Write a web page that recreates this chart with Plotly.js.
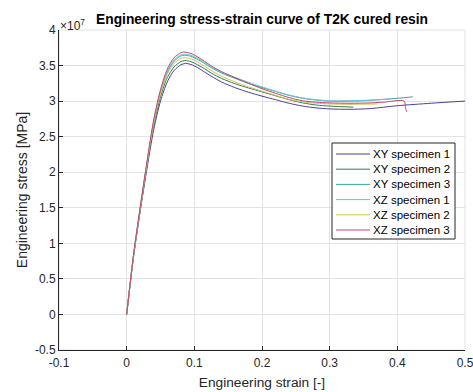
<!DOCTYPE html>
<html>
<head>
<meta charset="utf-8">
<script src="https://cdn.plot.ly/plotly-3.0.1.min.js"></script>
<style>html,body{margin:0;padding:0;background:#fff;}#chart{width:473px;height:392px;}</style>
</head>
<body>
<div id="chart"></div>
<script>
// Stress values are in units of 1e7 Pa (axis shows ×10^7)
const seriesNames = ["XY specimen 1", "XY specimen 2", "XY specimen 3", "XZ specimen 1", "XZ specimen 2", "XZ specimen 3"];

const xy1_strain = [0, 0.01, 0.02, 0.03, 0.04, 0.05, 0.06, 0.07, 0.08, 0.087, 0.095, 0.105, 0.115, 0.125, 0.14, 0.16, 0.18, 0.2, 0.22, 0.24, 0.26, 0.28, 0.3, 0.33, 0.36, 0.4, 0.45, 0.5];
const xy1_stress = [0, 0.80, 1.45, 2.05, 2.60, 3.00, 3.27, 3.43, 3.51, 3.53, 3.515, 3.47, 3.41, 3.35, 3.27, 3.19, 3.125, 3.07, 3.02, 2.97, 2.93, 2.905, 2.89, 2.885, 2.895, 2.935, 2.97, 3.00];

const xy2_strain = [0, 0.01, 0.02, 0.03, 0.04, 0.05, 0.06, 0.07, 0.08, 0.086, 0.095, 0.105, 0.115, 0.125, 0.14, 0.16, 0.18, 0.2, 0.22, 0.24, 0.26, 0.28, 0.3, 0.335];
const xy2_stress = [0, 0.81, 1.47, 2.09, 2.65, 3.06, 3.33, 3.48, 3.555, 3.57, 3.555, 3.51, 3.455, 3.395, 3.32, 3.245, 3.185, 3.13, 3.075, 3.02, 2.975, 2.945, 2.93, 2.915];

const xy3_strain = [0, 0.01, 0.02, 0.03, 0.04, 0.05, 0.06, 0.07, 0.08, 0.085, 0.095, 0.105, 0.115, 0.125, 0.14, 0.16, 0.18, 0.2, 0.22, 0.24, 0.26, 0.28, 0.3, 0.35, 0.4, 0.423];
const xy3_stress = [0, 0.82, 1.49, 2.12, 2.70, 3.12, 3.40, 3.56, 3.635, 3.645, 3.63, 3.585, 3.53, 3.47, 3.395, 3.32, 3.25, 3.19, 3.135, 3.08, 3.04, 3.015, 3.00, 3.005, 3.04, 3.06];

const xz1_strain = [0, 0.01, 0.02, 0.03, 0.04, 0.05, 0.06, 0.07, 0.08, 0.086, 0.095, 0.105, 0.115, 0.125, 0.14, 0.16, 0.18, 0.2, 0.22, 0.24, 0.26, 0.28, 0.3, 0.35, 0.39];
const xz1_stress = [0, 0.82, 1.50, 2.13, 2.72, 3.14, 3.42, 3.58, 3.65, 3.66, 3.645, 3.60, 3.545, 3.485, 3.41, 3.335, 3.265, 3.20, 3.14, 3.085, 3.045, 3.02, 3.005, 3.01, 3.03];

const xz2_strain = [0, 0.01, 0.02, 0.03, 0.04, 0.05, 0.06, 0.07, 0.08, 0.085, 0.095, 0.105, 0.115, 0.125, 0.14, 0.16, 0.18, 0.2, 0.22, 0.24, 0.26, 0.28, 0.3, 0.33, 0.37];
const xz2_stress = [0, 0.82, 1.49, 2.12, 2.69, 3.10, 3.38, 3.53, 3.60, 3.61, 3.595, 3.55, 3.49, 3.43, 3.35, 3.27, 3.20, 3.14, 3.08, 3.025, 2.99, 2.97, 2.96, 2.955, 2.96];

const xz3_strain = [0, 0.01, 0.02, 0.03, 0.04, 0.05, 0.06, 0.07, 0.08, 0.084, 0.095, 0.105, 0.115, 0.125, 0.14, 0.16, 0.18, 0.2, 0.22, 0.24, 0.26, 0.28, 0.3, 0.33, 0.36, 0.38, 0.41, 0.412, 0.414];
const xz3_stress = [0, 0.83, 1.51, 2.15, 2.74, 3.16, 3.45, 3.61, 3.68, 3.69, 3.67, 3.62, 3.56, 3.495, 3.415, 3.33, 3.25, 3.175, 3.11, 3.05, 3.005, 2.985, 2.975, 2.97, 2.975, 2.985, 3.00, 2.90, 2.85];

const lineColors = ["#4b3f98", "#2f7f55", "#34a99a", "#6cc3dd", "#d8bf52", "#c4466f"];

const xTickVals = [-0.1, 0, 0.1, 0.2, 0.3, 0.4, 0.5];
const xTickText = ["-0.1", "0", "0.1", "0.2", "0.3", "0.4", "0.5"];
const yTickVals = [-0.5, 0, 0.5, 1, 1.5, 2, 2.5, 3, 3.5, 4];
const yTickText = ["-0.5", "0", "0.5", "1", "1.5", "2", "2.5", "3", "3.5", "4"];

const xs = [xy1_strain, xy2_strain, xy3_strain, xz1_strain, xz2_strain, xz3_strain];
const ys = [xy1_stress, xy2_stress, xy3_stress, xz1_stress, xz2_stress, xz3_stress];

const traces = seriesNames.map((n, i) => ({
  x: xs[i], y: ys[i], name: n, type: "scatter", mode: "lines", showlegend: false,
  line: {color: lineColors[i], width: 1, shape: "spline", smoothing: 0.8}
}));

const axisCommon = {
  showline: true, mirror: false, linecolor: "#262626", linewidth: 1,
  ticks: "inside", ticklen: 4, tickcolor: "#262626",
  showgrid: true, gridcolor: "#e3e3e3", gridwidth: 1, zeroline: false,
  ticklabeloverflow: "allow",
  tickfont: {family: "Liberation Sans, Arial, sans-serif", size: 12, color: "#262626"}
};

// Legend drawn in the plot-area frame (paper coords): box + samples + labels
const plotL = 59, plotT = 30, plotW = 406, plotH = 320;
const px = v => (v - plotL) / plotW;
const py = v => (plotT + plotH - v) / plotH;
const shapes = [
  {type: "rect", xref: "paper", yref: "paper", x0: 0, x1: 1, y0: 0, y1: 1, layer: "below",
   line: {color: "#e3e3e3", width: 1}},
  {type: "rect", xref: "paper", yref: "paper", x0: px(332), x1: px(455), y0: py(239), y1: py(143),
   fillcolor: "#ffffff", line: {color: "#262626", width: 1}, layer: "above"}
];
const annotations = [{
  text: "×10<sup>7</sup>", xref: "paper", yref: "paper", x: 0, y: 1, xanchor: "left", yanchor: "bottom",
  showarrow: false, font: {size: 12, color: "#262626"}, xshift: -1, yshift: -5
}];
seriesNames.forEach((n, i) => {
  const yc = 154 + 15.2 * i;
  shapes.push({type: "line", xref: "paper", yref: "paper", x0: px(336), x1: px(370), y0: py(yc), y1: py(yc),
    line: {color: lineColors[i], width: 1}, layer: "above"});
  annotations.push({text: n, xref: "paper", yref: "paper", x: px(372), y: py(yc), xanchor: "left", yanchor: "middle",
    showarrow: false, font: {size: 11.5, color: "#000"}, borderpad: 0});
});

const layout = {
  width: 473, height: 392,
  margin: {l: 59, r: 8, t: 30, b: 42},
  paper_bgcolor: "#fff", plot_bgcolor: "#fff",
  font: {family: "Liberation Sans, Arial, sans-serif", color: "#262626"},
  title: {text: "<b>Engineering stress-strain curve of T2K cured resin</b>",
    font: {size: 13.8, color: "#000"}, xref: "paper", x: 0.5, xanchor: "center", y: 0.9515, yanchor: "middle"},
  xaxis: Object.assign({}, axisCommon, {
    range: [-0.1, 0.5], tickvals: xTickVals, ticktext: xTickText, ticklabelstandoff: 2,
    title: {text: "Engineering strain [-]", font: {size: 13.7, color: "#262626"}, standoff: 8}
  }),
  yaxis: Object.assign({}, axisCommon, {
    range: [-0.5, 4], tickvals: yTickVals, ticktext: yTickText,
    title: {text: "Engineering stress [MPa]", font: {size: 14, color: "#262626"}, standoff: 4}
  }),
  shapes: shapes,
  annotations: annotations,
  showlegend: false
};

Plotly.newPlot("chart", traces, layout, {displayModeBar: false, staticPlot: true});
</script>
</body>
</html>
